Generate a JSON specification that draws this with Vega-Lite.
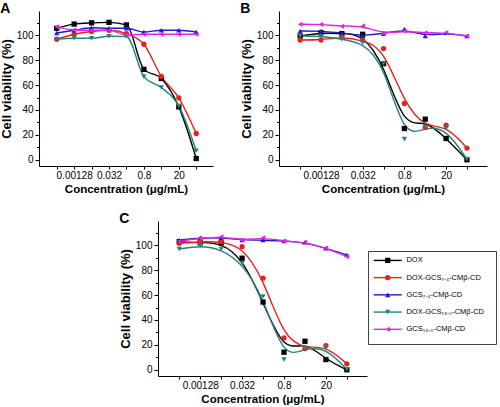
{
  "$schema": "https://vega.github.io/schema/vega-lite/v6.json",
  "padding": {"left": 0, "top": 2, "right": 0, "bottom": 0},
  "background": "white",
  "config": {
    "font": "Liberation Sans",
    "view": {"stroke": null},
    "axis": {
      "labelFont": "Liberation Sans", "labelFontSize": 10, "labelColor": "#000",
      "titleFont": "Liberation Sans", "titleFontSize": 11.5, "titleFontWeight": "bold", "titleColor": "#000",
      "domainColor": "#000", "tickColor": "#000", "grid": false, "labelOverlap": false
    },
    "title": {"fontSize": 14, "fontWeight": "bold", "anchor": "start", "frame": "bounds", "color": "#000", "font": "Liberation Sans"}
  },
  "datasets": {
    "main": [
      {"p":"A","s":"DOX","c":0.000256,"v":105.6},{"p":"A","s":"DOX","c":0.00128,"v":109},{"p":"A","s":"DOX","c":0.0064,"v":110},{"p":"A","s":"DOX","c":0.032,"v":110.4},{"p":"A","s":"DOX","c":0.16,"v":108.3},{"p":"A","s":"DOX","c":0.8,"v":72.6},{"p":"A","s":"DOX","c":4,"v":65.3},{"p":"A","s":"DOX","c":20,"v":42.5},{"p":"A","s":"DOX","c":100,"v":1},
      {"p":"A","s":"DOX-GCS7.4","c":0.000256,"v":96.8},{"p":"A","s":"DOX-GCS7.4","c":0.00128,"v":100.8},{"p":"A","s":"DOX-GCS7.4","c":0.0064,"v":103},{"p":"A","s":"DOX-GCS7.4","c":0.032,"v":104},{"p":"A","s":"DOX-GCS7.4","c":0.16,"v":101.3},{"p":"A","s":"DOX-GCS7.4","c":0.8,"v":92.8},{"p":"A","s":"DOX-GCS7.4","c":4,"v":67},{"p":"A","s":"DOX-GCS7.4","c":20,"v":49.8},{"p":"A","s":"DOX-GCS7.4","c":100,"v":21.1},
      {"p":"A","s":"GCS7.4","c":0.000256,"v":101.8},{"p":"A","s":"GCS7.4","c":0.00128,"v":104},{"p":"A","s":"GCS7.4","c":0.0064,"v":106},{"p":"A","s":"GCS7.4","c":0.032,"v":105.6},{"p":"A","s":"GCS7.4","c":0.16,"v":105.6},{"p":"A","s":"GCS7.4","c":0.8,"v":102.6},{"p":"A","s":"GCS7.4","c":4,"v":104},{"p":"A","s":"GCS7.4","c":20,"v":104},{"p":"A","s":"GCS7.4","c":100,"v":102.6},
      {"p":"A","s":"DOX-GCS13.0","c":0.000256,"v":96.8},{"p":"A","s":"DOX-GCS13.0","c":0.00128,"v":97.6},{"p":"A","s":"DOX-GCS13.0","c":0.0064,"v":97.6},{"p":"A","s":"DOX-GCS13.0","c":0.032,"v":99.2},{"p":"A","s":"DOX-GCS13.0","c":0.16,"v":99},{"p":"A","s":"DOX-GCS13.0","c":0.8,"v":66.8},{"p":"A","s":"DOX-GCS13.0","c":4,"v":58},{"p":"A","s":"DOX-GCS13.0","c":20,"v":43.3},{"p":"A","s":"DOX-GCS13.0","c":100,"v":7.2},
      {"p":"A","s":"GCS13.0","c":0.000256,"v":106.7},{"p":"A","s":"GCS13.0","c":0.00128,"v":104.2},{"p":"A","s":"GCS13.0","c":0.0064,"v":104},{"p":"A","s":"GCS13.0","c":0.032,"v":104},{"p":"A","s":"GCS13.0","c":0.16,"v":100.2},{"p":"A","s":"GCS13.0","c":0.8,"v":100.8},{"p":"A","s":"GCS13.0","c":4,"v":100.8},{"p":"A","s":"GCS13.0","c":20,"v":100.8},{"p":"A","s":"GCS13.0","c":100,"v":100.8},

      {"p":"B","s":"DOX","c":0.000256,"v":99.4},{"p":"B","s":"DOX","c":0.00128,"v":102},{"p":"B","s":"DOX","c":0.0064,"v":101.3},{"p":"B","s":"DOX","c":0.032,"v":100.8},{"p":"B","s":"DOX","c":0.16,"v":77.2},{"p":"B","s":"DOX","c":0.8,"v":25.1},{"p":"B","s":"DOX","c":4,"v":32.6},{"p":"B","s":"DOX","c":20,"v":17.1},{"p":"B","s":"DOX","c":100,"v":0},
      {"p":"B","s":"DOX-GCS7.4","c":0.000256,"v":96.2},{"p":"B","s":"DOX-GCS7.4","c":0.00128,"v":96.2},{"p":"B","s":"DOX-GCS7.4","c":0.0064,"v":98.6},{"p":"B","s":"DOX-GCS7.4","c":0.032,"v":96},{"p":"B","s":"DOX-GCS7.4","c":0.16,"v":89.3},{"p":"B","s":"DOX-GCS7.4","c":0.8,"v":45.2},{"p":"B","s":"DOX-GCS7.4","c":4,"v":25.9},{"p":"B","s":"DOX-GCS7.4","c":20,"v":27.8},{"p":"B","s":"DOX-GCS7.4","c":100,"v":9.4},
      {"p":"B","s":"GCS7.4","c":0.000256,"v":103.4},{"p":"B","s":"GCS7.4","c":0.00128,"v":103.4},{"p":"B","s":"GCS7.4","c":0.0064,"v":102},{"p":"B","s":"GCS7.4","c":0.032,"v":99.4},{"p":"B","s":"GCS7.4","c":0.16,"v":101.3},{"p":"B","s":"GCS7.4","c":0.8,"v":105},{"p":"B","s":"GCS7.4","c":4,"v":99.4},{"p":"B","s":"GCS7.4","c":20,"v":102},{"p":"B","s":"GCS7.4","c":100,"v":99.4},
      {"p":"B","s":"DOX-GCS13.0","c":0.000256,"v":99.4},{"p":"B","s":"DOX-GCS13.0","c":0.00128,"v":99.4},{"p":"B","s":"DOX-GCS13.0","c":0.0064,"v":96.8},{"p":"B","s":"DOX-GCS13.0","c":0.032,"v":94.1},{"p":"B","s":"DOX-GCS13.0","c":0.16,"v":77.2},{"p":"B","s":"DOX-GCS13.0","c":0.8,"v":16.6},{"p":"B","s":"DOX-GCS13.0","c":4,"v":26.5},{"p":"B","s":"DOX-GCS13.0","c":20,"v":25.1},{"p":"B","s":"DOX-GCS13.0","c":100,"v":0.5},
      {"p":"B","s":"GCS13.0","c":0.000256,"v":108.8},{"p":"B","s":"GCS13.0","c":0.00128,"v":108.8},{"p":"B","s":"GCS13.0","c":0.0064,"v":107.2},{"p":"B","s":"GCS13.0","c":0.032,"v":107.5},{"p":"B","s":"GCS13.0","c":0.16,"v":101.3},{"p":"B","s":"GCS13.0","c":0.8,"v":103.4},{"p":"B","s":"GCS13.0","c":4,"v":102},{"p":"B","s":"GCS13.0","c":20,"v":102},{"p":"B","s":"GCS13.0","c":100,"v":99.4},

      {"p":"C","s":"DOX","c":0.000256,"v":102.9},{"p":"C","s":"DOX","c":0.00128,"v":102},{"p":"C","s":"DOX","c":0.0064,"v":102},{"p":"C","s":"DOX","c":0.032,"v":89.6},{"p":"C","s":"DOX","c":0.16,"v":54.4},{"p":"C","s":"DOX","c":0.8,"v":14.1},{"p":"C","s":"DOX","c":4,"v":22.9},{"p":"C","s":"DOX","c":20,"v":8.2},{"p":"C","s":"DOX","c":100,"v":0},
      {"p":"C","s":"DOX-GCS7.4","c":0.000256,"v":101.6},{"p":"C","s":"DOX-GCS7.4","c":0.00128,"v":102.9},{"p":"C","s":"DOX-GCS7.4","c":0.0064,"v":102.9},{"p":"C","s":"DOX-GCS7.4","c":0.032,"v":98.9},{"p":"C","s":"DOX-GCS7.4","c":0.16,"v":73.6},{"p":"C","s":"DOX-GCS7.4","c":0.8,"v":25.6},{"p":"C","s":"DOX-GCS7.4","c":4,"v":17},{"p":"C","s":"DOX-GCS7.4","c":20,"v":19.4},{"p":"C","s":"DOX-GCS7.4","c":100,"v":4.8},
      {"p":"C","s":"GCS7.4","c":0.000256,"v":104.2},{"p":"C","s":"GCS7.4","c":0.00128,"v":106.1},{"p":"C","s":"GCS7.4","c":0.0064,"v":106.1},{"p":"C","s":"GCS7.4","c":0.032,"v":104.2},{"p":"C","s":"GCS7.4","c":0.16,"v":104.2},{"p":"C","s":"GCS7.4","c":0.8,"v":103.4},{"p":"C","s":"GCS7.4","c":4,"v":102.4},{"p":"C","s":"GCS7.4","c":20,"v":97.6},{"p":"C","s":"GCS7.4","c":100,"v":92.2},
      {"p":"C","s":"DOX-GCS13.0","c":0.000256,"v":97},{"p":"C","s":"DOX-GCS13.0","c":0.00128,"v":99.7},{"p":"C","s":"DOX-GCS13.0","c":0.0064,"v":97},{"p":"C","s":"DOX-GCS13.0","c":0.032,"v":85.6},{"p":"C","s":"DOX-GCS13.0","c":0.16,"v":58.9},{"p":"C","s":"DOX-GCS13.0","c":0.8,"v":8.2},{"p":"C","s":"DOX-GCS13.0","c":4,"v":17.6},{"p":"C","s":"DOX-GCS13.0","c":20,"v":17.6},{"p":"C","s":"DOX-GCS13.0","c":100,"v":0.3},
      {"p":"C","s":"GCS13.0","c":0.000256,"v":103.4},{"p":"C","s":"GCS13.0","c":0.00128,"v":105.5},{"p":"C","s":"GCS13.0","c":0.0064,"v":106.9},{"p":"C","s":"GCS13.0","c":0.032,"v":104.2},{"p":"C","s":"GCS13.0","c":0.16,"v":106.1},{"p":"C","s":"GCS13.0","c":0.8,"v":103.4},{"p":"C","s":"GCS13.0","c":4,"v":102.4},{"p":"C","s":"GCS13.0","c":20,"v":97.6},{"p":"C","s":"GCS13.0","c":100,"v":90.9}
    ],
    "legend": [
      {"s":"DOX","label":"DOX"},
      {"s":"DOX-GCS7.4","label":"DOX-GCS₇.₄-CMβ-CD"},
      {"s":"GCS7.4","label":"GCS₇.₄-CMβ-CD"},
      {"s":"DOX-GCS13.0","label":"DOX-GCS₁₃.₀-CMβ-CD"},
      {"s":"GCS13.0","label":"GCS₁₃.₀-CMβ-CD"}
    ]
  },
  "spacing": 17,
  "vconcat": [
    {
      "spacing": 27,
      "hconcat": [
        {
          "width": 174, "height": 155,
          "title": {"text": "A", "offset": -5},
          "data": {"name": "main"},
          "transform": [{"filter": "datum.p === 'A'"}],
          "encoding": {
            "x": {"field": "c", "type": "quantitative", "title": "Concentration (μg/mL)",
                  "scale": {"type": "log", "domain": [0.00005, 470], "nice": false},
                  "axis": {"values": [0.000256,0.00128,0.0064,0.032,0.16,0.8,4,20,100], "format": "~g",
                           "labelExpr": "indexof(['0.00128','0.032','0.8','20'], datum.label) >= 0 ? datum.label : ''",
                           "tickSize": 3, "labelPadding": 1, "titlePadding": 3}},
            "y": {"field": "v", "type": "quantitative", "title": "Cell viability (%)",
                  "scale": {"domain": [-5, 119.5], "nice": false, "zero": false},
                  "axis": {"values": [0,10,20,30,40,50,60,70,80,90,100,110],
                           "labelExpr": "datum.value % 20 === 0 ? datum.label : ''",
                           "tickSize": {"condition": {"test": "datum.value % 20 === 0", "value": 4}, "value": 2.5},
                           "labelPadding": 2, "titlePadding": 3, "titleFontSize": 13}},
            "color": {"field": "s", "type": "nominal", "legend": null,
                      "scale": {"domain": ["DOX","DOX-GCS7.4","GCS7.4","DOX-GCS13.0","GCS13.0"],
                                "range": ["#000000","#e8211d","#1c1ccc","#22857b","#e424e4"]}}
          },
          "layer": [
            {"mark": {"type": "line", "interpolate": "monotone", "strokeWidth": 1.4}},
            {"mark": {"type": "point", "filled": true, "size": 28, "opacity": 1},
             "encoding": {"shape": {"field": "s", "type": "nominal", "legend": null,
                          "scale": {"domain": ["DOX","DOX-GCS7.4","GCS7.4","DOX-GCS13.0","GCS13.0"],
                                    "range": ["square","circle","triangle-up","triangle-down","triangle-left"]}}}}
          ]
        },
        {
          "width": 208, "height": 155,
          "title": {"text": "B", "offset": -5},
          "data": {"name": "main"},
          "transform": [{"filter": "datum.p === 'B'"}],
          "encoding": {
            "x": {"field": "c", "type": "quantitative", "title": "Concentration (μg/mL)",
                  "scale": {"type": "log", "domain": [0.00005, 470], "nice": false},
                  "axis": {"values": [0.000256,0.00128,0.0064,0.032,0.16,0.8,4,20,100], "format": "~g",
                           "labelExpr": "indexof(['0.00128','0.032','0.8','20'], datum.label) >= 0 ? datum.label : ''",
                           "tickSize": 3, "labelPadding": 1, "titlePadding": 3}},
            "y": {"field": "v", "type": "quantitative", "title": "Cell viability (%)",
                  "scale": {"domain": [-5, 119.5], "nice": false, "zero": false},
                  "axis": {"values": [0,10,20,30,40,50,60,70,80,90,100,110],
                           "labelExpr": "datum.value % 20 === 0 ? datum.label : ''",
                           "tickSize": {"condition": {"test": "datum.value % 20 === 0", "value": 4}, "value": 2.5},
                           "labelPadding": 2, "titlePadding": 3, "titleFontSize": 13}},
            "color": {"field": "s", "type": "nominal", "legend": null,
                      "scale": {"domain": ["DOX","DOX-GCS7.4","GCS7.4","DOX-GCS13.0","GCS13.0"],
                                "range": ["#000000","#e8211d","#1c1ccc","#22857b","#e424e4"]}}
          },
          "layer": [
            {"mark": {"type": "line", "interpolate": "basis", "strokeWidth": 1.4}},
            {"mark": {"type": "point", "filled": true, "size": 28, "opacity": 1},
             "encoding": {"shape": {"field": "s", "type": "nominal", "legend": null,
                          "scale": {"domain": ["DOX","DOX-GCS7.4","GCS7.4","DOX-GCS13.0","GCS13.0"],
                                    "range": ["square","circle","triangle-up","triangle-down","triangle-left"]}}}}
          ]
        }
      ]
    },
    {
      "spacing": 0,
      "hconcat": [
        {"width": 80, "height": 20, "data": {"values": []}, "mark": "point"},
        {
          "width": 209, "height": 155,
          "title": {"text": "C", "offset": -5},
          "data": {"name": "main"},
          "transform": [{"filter": "datum.p === 'C'"}],
          "encoding": {
            "x": {"field": "c", "type": "quantitative", "title": "Concentration (μg/mL)",
                  "scale": {"type": "log", "domain": [0.00005, 470], "nice": false},
                  "axis": {"values": [0.000256,0.00128,0.0064,0.032,0.16,0.8,4,20,100], "format": "~g",
                           "labelExpr": "indexof(['0.00128','0.032','0.8','20'], datum.label) >= 0 ? datum.label : ''",
                           "tickSize": 3, "labelPadding": 1, "titlePadding": 3}},
            "y": {"field": "v", "type": "quantitative", "title": "Cell viability (%)",
                  "scale": {"domain": [-5, 119.5], "nice": false, "zero": false},
                  "axis": {"values": [0,10,20,30,40,50,60,70,80,90,100,110],
                           "labelExpr": "datum.value % 20 === 0 ? datum.label : ''",
                           "tickSize": {"condition": {"test": "datum.value % 20 === 0", "value": 4}, "value": 2.5},
                           "labelPadding": 2, "titlePadding": 3, "titleFontSize": 13}},
            "color": {"field": "s", "type": "nominal", "legend": null,
                      "scale": {"domain": ["DOX","DOX-GCS7.4","GCS7.4","DOX-GCS13.0","GCS13.0"],
                                "range": ["#000000","#e8211d","#1c1ccc","#22857b","#e424e4"]}}
          },
          "layer": [
            {"mark": {"type": "line", "interpolate": "basis", "strokeWidth": 1.4}},
            {"mark": {"type": "point", "filled": true, "size": 28, "opacity": 1},
             "encoding": {"shape": {"field": "s", "type": "nominal", "legend": null,
                          "scale": {"domain": ["DOX","DOX-GCS7.4","GCS7.4","DOX-GCS13.0","GCS13.0"],
                                    "range": ["square","circle","triangle-up","triangle-down","triangle-left"]}}}}
          ]
        },
        {
          "spacing": 0,
          "vconcat": [
            {"width": 10, "height": 29, "data": {"values": []}, "mark": "point"},
            {
              "width": 128, "height": 93,
              "view": {"stroke": "#444", "strokeWidth": 1},
              "data": {"name": "legend"},
              "encoding": {
                "y": {"field": "s", "type": "nominal", "axis": null,
                      "scale": {"type": "point", "padding": 0.7, "align": 0.39, "domain": ["DOX","DOX-GCS7.4","GCS7.4","DOX-GCS13.0","GCS13.0"]}},
                "color": {"field": "s", "type": "nominal", "legend": null,
                          "scale": {"domain": ["DOX","DOX-GCS7.4","GCS7.4","DOX-GCS13.0","GCS13.0"],
                                    "range": ["#000000","#e8211d","#1c1ccc","#22857b","#e424e4"]}}
              },
              "layer": [
                {"mark": {"type": "rule", "strokeWidth": 1.4},
                 "encoding": {"x": {"datum": 0.044, "type": "quantitative", "scale": {"domain": [0, 1]}, "axis": null}, "x2": {"datum": 0.264}}},
                {"mark": {"type": "point", "filled": true, "size": 28, "opacity": 1},
                 "encoding": {"x": {"datum": 0.154, "type": "quantitative"},
                              "shape": {"field": "s", "type": "nominal", "legend": null,
                                        "scale": {"domain": ["DOX","DOX-GCS7.4","GCS7.4","DOX-GCS13.0","GCS13.0"],
                                                  "range": ["square","circle","triangle-up","triangle-down","triangle-left"]}}}},
                {"mark": {"type": "text", "align": "left", "baseline": "middle", "fontSize": 7.5, "font": "Liberation Sans"},
                 "encoding": {"x": {"datum": 0.3, "type": "quantitative"}, "text": {"field": "label"}, "color": {"value": "#000"}}}
              ]
            }
          ]
        }
      ]
    }
  ]
}
